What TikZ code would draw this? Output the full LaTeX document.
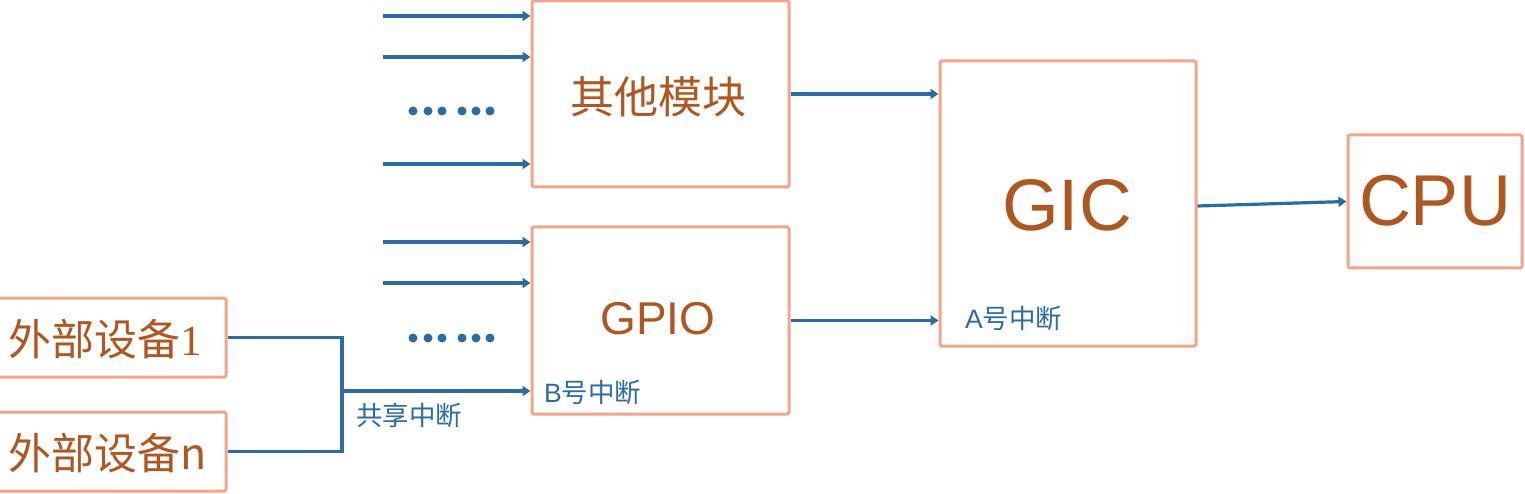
\documentclass[tikz,border=0pt]{standalone}
\usepackage{fontspec}
\setmainfont{Liberation Sans}
\newfontfamily\cjk{Noto Sans CJK SC}
\newfontfamily\serifl{Liberation Serif}
\usetikzlibrary{arrows.meta}
\definecolor{boxc}{HTML}{F4A488}
\definecolor{txtc}{HTML}{B0561F}
\definecolor{linec}{HTML}{2A6CA3}
\tikzset{
  box/.style={draw=boxc, line width=3pt, rounded corners=1.5pt, inner sep=0pt, text=txtc, fill=white},
  wire/.style={draw=linec, line width=3.2pt},
  arr/.style={wire, -{Triangle[length=8pt,width=10pt]}},
  lbl/.style={text=linec, inner sep=0pt, anchor=west},
  dot/.style={fill=linec, draw=none},
}
\begin{document}
\begin{tikzpicture}[x=1pt,y=-1pt]
\useasboundingbox (0,0) rectangle (1525,494);
% boxes
\node[box, minimum width=257pt, minimum height=186pt] (other) at (660.5,94) {};
\node[text=txtc, font=\cjk\fontsize{44}{50}\selectfont] (othert) at (658,97) {其他模块};
\node[box, minimum width=257pt, minimum height=187pt] (gpio) at (660.5,320.5) {};
\node[text=txtc, font=\fontsize{46}{52}\selectfont] (gpiot) at (658,319) {GPIO};
\node[box, minimum width=256pt, minimum height=285pt] (gic) at (1068,203.5) {};
\node[text=txtc, font=\fontsize{73}{78}\selectfont] (gict) at (1067,205) {GIC};
\node[box, minimum width=174pt, minimum height=133pt] (cpu) at (1435,201.5) {};
\node[text=txtc, font=\fontsize{72}{78}\selectfont] (cput) at (1435,201) {CPU};
\node[box, minimum width=236pt, minimum height=79pt] (d1) at (108,337.5) {};
\node[text=txtc, font=\cjk\fontsize{43}{48}\selectfont, anchor=west] (d1t) at (5,339) {外部设备{\serifl 1}};
\node[box, minimum width=236pt, minimum height=79pt] (dn) at (108,451.5) {};
\node[text=txtc, font=\cjk\fontsize{43}{48}\selectfont, anchor=west] (dnt) at (5,453) {外部设备{\fontsize{43}{48}\selectfont n}};
% labels
\node[lbl, font=\cjk\fontsize{26.5}{30}\selectfont] (la) at (965,318) {{\fontspec{Liberation Sans}A}号中断};
\node[lbl, font=\cjk\fontsize{26.5}{30}\selectfont] (lb) at (544,392) {{\fontspec{Liberation Sans}B}号中断};
\node[lbl, font=\cjk\fontsize{26.5}{30}\selectfont] (ls) at (356,415) {共享中断};
% inputs of other
\coordinate (o1) at (383,16);
\coordinate (o2) at (383,57);
\coordinate (o3) at (383,164);
\draw[arr] (o1) -- (o1 -| other.west);
\draw[arr] (o2) -- (o2 -| other.west);
\draw[arr] (o3) -- (o3 -| other.west);
% inputs of gpio
\coordinate (g1) at (383,242);
\coordinate (g2) at (383,283);
\draw[arr] (g1) -- (g1 -| gpio.west);
\draw[arr] (g2) -- (g2 -| gpio.west);
% dots
\foreach \x in {413,428,442,462,476,490}{
  \fill[dot] (\x,111) circle (4.5pt);
  \fill[dot] (\x,338) circle (4.5pt);
}
% shared bus
\coordinate (j) at (342,391);
\draw[wire] (d1.east) -| (j);
\draw[wire] (dn.east) -| (j);
\draw[arr] (j) -- (j -| gpio.west);
% outputs
\draw[arr] (other.east) -- (other.east -| gic.west);
\draw[arr] (gpio.east) -- (gpio.east -| gic.west);
\draw[arr] ([yshift=-2.5pt]gic.east) -- ([yshift=0pt]cpu.west);
\end{tikzpicture}
\end{document}
